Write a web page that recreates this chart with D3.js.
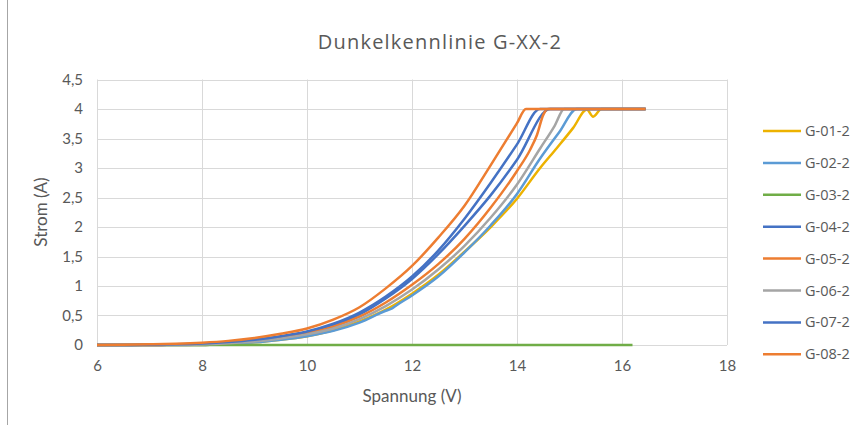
<!DOCTYPE html>
<html>
<head>
<meta charset="utf-8">
<script src="https://cdn.jsdelivr.net/npm/d3@7"></script>
<style>
    body { margin: 0; background: #fff; }
    text { fill: #595959; }
</style>
</head>
<body>
<div id="chart"></div>
<script>
// series names, drawn in this order (last one on top)
const seriesNames = ["G-01-2", "G-02-2", "G-03-2", "G-04-2", "G-05-2", "G-06-2", "G-07-2", "G-08-2"];
const seriesColors = ["#EDB200", "#5B9BD5", "#70AD47", "#4472C4", "#ED7D31", "#A5A5A5", "#4472C4", "#ED7D31"];

// [Spannung (V), Strom (A)]
const g01 = [[6, 0], [8, 0], [8.5, 0.02], [9, 0.045], [9.5, 0.09], [10, 0.15], [10.5, 0.25], [11, 0.4], [11.5, 0.6],
    [12, 0.87], [12.5, 1.19], [13, 1.58], [13.5, 2.0], [14, 2.48], [14.44, 3.0], [14.76, 3.34], [15.07, 3.68],
    [15.33, 3.99], [15.45, 3.87], [15.61, 4.0], [16.45, 4.0]];
const g02 = [[6, 0], [8, 0], [8.5, 0.02], [9, 0.045], [9.5, 0.09], [10, 0.15], [10.5, 0.24], [11, 0.38], [11.5, 0.58],
    [11.62, 0.62], [11.7, 0.67], [12, 0.84], [12.5, 1.16], [13, 1.57], [13.5, 2.03], [14, 2.56], [14.44, 3.16],
    [14.8, 3.6], [15.14, 4.0], [16.45, 4.0]];
const g03 = [[6, 0], [16.2, 0]];
const g04 = [[6, 0], [7, 0], [7.5, 0.01], [8, 0.02], [8.5, 0.045], [9, 0.085], [9.5, 0.14], [10, 0.22], [10.5, 0.34],
    [11, 0.52], [11.5, 0.79], [12, 1.12], [12.5, 1.54], [13, 2.02], [13.5, 2.54], [14, 3.14], [14.63, 4.0], [16.45, 4.0]];
const g05 = [[6, 0], [7, 0], [7.5, 0.01], [8, 0.02], [8.5, 0.04], [9, 0.08], [9.5, 0.13], [10, 0.2], [10.5, 0.31],
    [11, 0.48], [11.5, 0.72], [12, 1.02], [12.5, 1.37], [13, 1.8], [13.5, 2.33], [14, 2.95], [14.25, 3.31],
    [14.38, 3.56], [14.5, 3.9], [14.59, 4.0], [16.45, 4.0]];
const g06 = [[6, 0], [7.5, 0], [8, 0.01], [8.5, 0.03], [9, 0.06], [9.5, 0.11], [10, 0.18], [10.5, 0.28], [11, 0.44],
    [11.5, 0.66], [12, 0.94], [12.5, 1.28], [13, 1.68], [13.5, 2.16], [14, 2.72], [14.44, 3.33], [14.72, 3.72],
    [14.9, 4.0], [16.45, 4.0]];
const g07 = [[6, 0], [6.5, 0], [7, 0.005], [7.5, 0.012], [8, 0.025], [8.5, 0.05], [9, 0.09], [9.5, 0.15], [10, 0.23],
    [10.5, 0.36], [11, 0.55], [11.5, 0.82], [12, 1.16], [12.5, 1.6], [13, 2.14], [13.5, 2.75], [14, 3.4],
    [14.44, 4.0], [16.45, 4.0]];
const g08 = [[6, 0], [6.5, 0.005], [7, 0.012], [7.5, 0.022], [8, 0.04], [8.5, 0.07], [9, 0.12], [9.5, 0.19], [10, 0.28],
    [10.5, 0.43], [11, 0.64], [11.5, 0.96], [12, 1.34], [12.5, 1.82], [13, 2.36], [13.5, 3.05], [14, 3.76],
    [14.17, 4.0], [16.45, 4.0]];
const seriesData = [g01, g02, g03, g04, g05, g06, g07, g08];

const xTicks = [6, 8, 10, 12, 14, 16, 18];
const yTicks = [0, 0.5, 1, 1.5, 2, 2.5, 3, 3.5, 4, 4.5];

var width = 861, height = 425;
var svg = d3.select("#chart").append("svg")
    .attr("width", width)
    .attr("height", height);

var x = d3.scaleLinear().domain([6, 18]).range([97, 727]);
var y = d3.scaleLinear().domain([0, 4.5]).range([345, 79.5]);
var fmt = function(d) { return String(d).replace(".", ","); };

// chart frame edge on the left
svg.append("line")
    .attr("x1", 7.5).attr("x2", 7.5)
    .attr("y1", 0).attr("y2", height)
    .attr("stroke", "#A6A6A6");

// gridlines
svg.append("g")
    .selectAll("line")
    .data(yTicks)
    .enter().append("line")
    .attr("x1", x(6)).attr("x2", x(18))
    .attr("y1", function(d) { return Math.round(y(d)) + 0.5; })
    .attr("y2", function(d) { return Math.round(y(d)) + 0.5; })
    .attr("stroke", "#D9D9D9");

svg.append("g")
    .selectAll("line")
    .data(xTicks)
    .enter().append("line")
    .attr("x1", function(d) { return Math.round(x(d)) + 0.5; })
    .attr("x2", function(d) { return Math.round(x(d)) + 0.5; })
    .attr("y1", y(4.5)).attr("y2", y(0))
    .attr("stroke", "#D9D9D9");

// axes (labels only, Excel style)
var xAxis = svg.append("g")
    .attr("transform", "translate(0," + y(0) + ")")
    .call(d3.axisBottom(x).tickValues(xTicks).tickSize(0).tickPadding(15).tickFormat(fmt));
var yAxis = svg.append("g")
    .attr("transform", "translate(" + (x(6) - 14) + ",0)")
    .call(d3.axisLeft(y).tickValues(yTicks).tickSize(0).tickPadding(0).tickFormat(fmt));
[xAxis, yAxis].forEach(function(a) {
    a.select(".domain").remove();
    a.selectAll("text")
        .attr("fill", "#595959")
        .style("font-family", "Lato, 'Open Sans', sans-serif")
        .style("font-size", "15px");
});

// curves
var line = d3.line()
    .x(function(d) { return x(d[0]); })
    .y(function(d) { return y(d[1]); })
    .curve(d3.curveMonotoneX);

svg.append("g")
    .selectAll("path")
    .data(seriesData)
    .enter().append("path")
    .attr("d", line)
    .attr("fill", "none")
    .attr("stroke", function(d, i) { return seriesColors[i]; })
    .attr("stroke-width", 2.5)
    .attr("stroke-linejoin", "round");

// title and axis titles
svg.append("text")
    .attr("x", 440).attr("y", 49)
    .attr("text-anchor", "middle")
    .style("font-family", "'Open Sans', sans-serif")
    .style("font-size", "20px")
    .style("letter-spacing", "1.2px")
    .text("Dunkelkennlinie G-XX-2");

svg.append("text")
    .attr("x", 412).attr("y", 402)
    .attr("text-anchor", "middle")
    .style("font-family", "Lato, sans-serif")
    .style("font-size", "17px")
    .text("Spannung (V)");

svg.append("text")
    .attr("transform", "translate(47,212) rotate(-90)")
    .attr("text-anchor", "middle")
    .style("font-family", "Lato, sans-serif")
    .style("font-size", "17px")
    .text("Strom (A)");

// legend
var legend = svg.append("g")
    .selectAll("g")
    .data(seriesNames)
    .enter().append("g")
    .attr("transform", function(d, i) { return "translate(763," + (131 + i * 31.9) + ")"; });

legend.append("line")
    .attr("x1", 0).attr("x2", 38)
    .attr("stroke", function(d, i) { return seriesColors[i]; })
    .attr("stroke-width", 2.5);

legend.append("text")
    .attr("x", 42).attr("dy", "0.35em")
    .style("font-family", "'Open Sans', sans-serif")
    .style("font-size", "14.5px")
    .text(function(d) { return d; });
</script>
</body>
</html>
